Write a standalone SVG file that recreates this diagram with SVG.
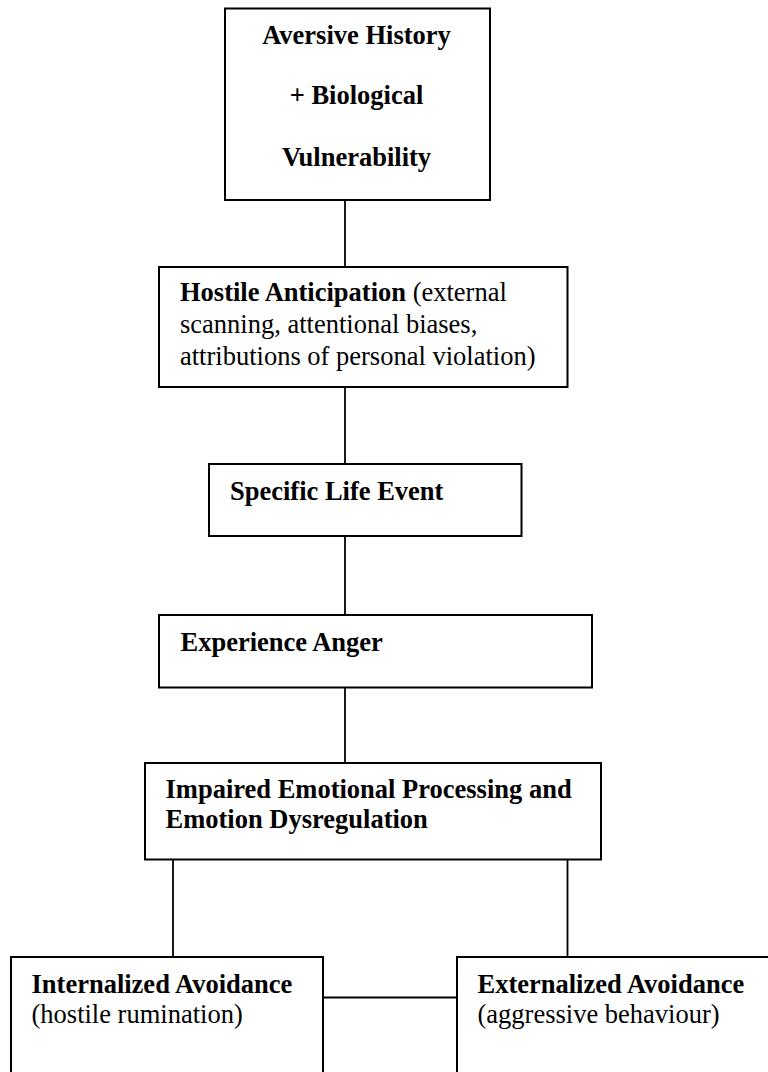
<svg xmlns="http://www.w3.org/2000/svg" width="768" height="1072" viewBox="0 0 768 1072">
<style>
.box{fill:#fff;stroke:#000;stroke-width:2}
.con{stroke:#000;stroke-width:1.8;fill:none}
text{font-family:"Liberation Serif","Times New Roman",serif;font-size:26.5px;fill:#000}
.b{font-weight:bold}
</style>
<rect x="0" y="0" width="768" height="1072" fill="#fff"/>
<g id="connectors">
<line class="con" x1="345" y1="200" x2="345" y2="267"/>
<line class="con" x1="345" y1="387" x2="345" y2="464"/>
<line class="con" x1="345" y1="536" x2="345" y2="615"/>
<line class="con" x1="345" y1="688" x2="345" y2="763"/>
<line class="con" x1="173" y1="859" x2="173" y2="957"/>
<line class="con" x1="567.5" y1="859" x2="567.5" y2="957"/>
<line class="con" x1="323" y1="997.5" x2="457" y2="997.5"/>
</g>
<g id="aversive">
<rect class="box" x="225" y="8.5" width="265" height="191.5"/>
<text class="b" x="356.5" y="43.5" text-anchor="middle">Aversive History</text>
<text class="b" x="356.5" y="104" text-anchor="middle">+ Biological</text>
<text class="b" x="356.5" y="166" text-anchor="middle">Vulnerability</text>
</g>
<g id="hostile">
<rect class="box" x="159" y="267" width="408.5" height="120"/>
<text x="180" y="301"><tspan class="b">Hostile Anticipation</tspan> (external</text>
<text x="180" y="333">scanning, attentional biases,</text>
<text x="180" y="365">attributions of personal violation)</text>
</g>
<g id="specific">
<rect class="box" x="209" y="464" width="312.5" height="72"/>
<text class="b" x="230" y="500">Specific Life Event</text>
</g>
<g id="anger">
<rect class="box" x="159" y="615" width="433" height="72.5"/>
<text class="b" x="180.5" y="651">Experience Anger</text>
</g>
<g id="impaired">
<rect class="box" x="145" y="763" width="456" height="96.5"/>
<text class="b" x="165.5" y="797.5">Impaired Emotional Processing and</text>
<text class="b" x="165.5" y="828">Emotion Dysregulation</text>
</g>
<g id="internalized">
<rect class="box" x="11" y="957" width="312" height="130"/>
<text class="b" x="31.5" y="993">Internalized Avoidance</text>
<text x="31.5" y="1023">(hostile rumination)</text>
</g>
<g id="externalized">
<rect class="box" x="457" y="957" width="330" height="130"/>
<text class="b" x="477.5" y="993">Externalized Avoidance</text>
<text x="477.5" y="1023">(aggressive behaviour)</text>
</g>
</svg>
